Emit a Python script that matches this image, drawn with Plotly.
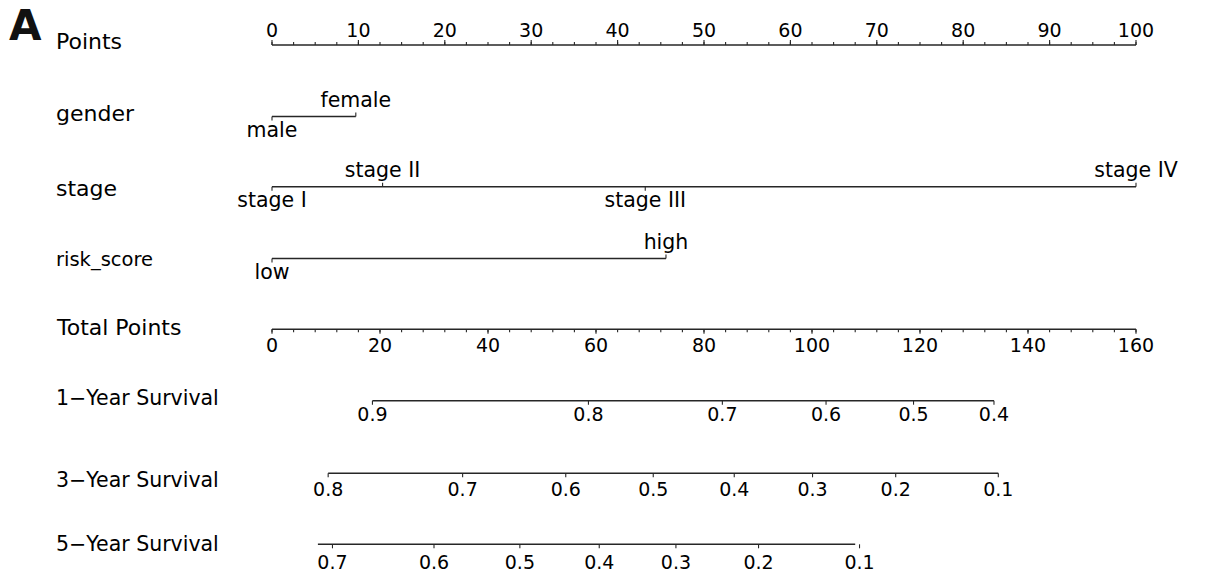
import plotly.graph_objects as go

# ---------------- data ----------------
points_major = [0, 10, 20, 30, 40, 50, 60, 70, 80, 90, 100]
points_minor_step = 2.5
points_max = 100

gender_levels = ["male", "female"]
gender_points = [0, 9.7]

stage_levels = ["stage I", "stage II", "stage III", "stage IV"]
stage_points = [0, 12.8, 43.2, 100]

risk_levels = ["low", "high"]
risk_points = [0, 45.6]

total_major = [0, 20, 40, 60, 80, 100, 120, 140, 160]
total_minor_step = 4
total_max = 160

surv1_labels = ["0.9", "0.8", "0.7", "0.6", "0.5", "0.4"]
surv1_total = [18.6, 58.6, 83.4, 102.6, 118.8, 133.7]
surv1_line = [18.6, 133.7]

surv3_labels = ["0.8", "0.7", "0.6", "0.5", "0.4", "0.3", "0.2", "0.1"]
surv3_total = [10.4, 35.3, 54.4, 70.6, 85.6, 100.1, 115.5, 134.5]
surv3_line = [10.4, 134.5]

surv5_labels = ["0.7", "0.6", "0.5", "0.4", "0.3", "0.2", "0.1"]
surv5_total = [11.2, 30.0, 45.9, 60.6, 74.8, 90.1, 108.8]
surv5_line = [8.5, 108.0]

row_titles = ["Points", "gender", "stage", "risk_score", "Total Points",
              "1\u2212Year Survival", "3\u2212Year Survival", "5\u2212Year Survival"]

# ---------------- layout constants ----------------
W, H = 1205, 574
X0_PX, X100_PX = 272, 1136
PX_PER_PT = (X100_PX - X0_PX) / points_max
x_range = [-X0_PX / PX_PER_PT, (W - X0_PX) / PX_PER_PT]

row_y = [45, 116.5, 186.7, 258.5, 329.3, 400.7, 473.3, 544.3]
title_y = [41.5, 113, 188, 259, 327, 398, 480, 544]
title_size = [22, 22, 22, 19.5, 22, 20.5, 20.5, 20.5]

FONT = "DejaVu Sans"
LINE_C = "#262626"
LINE_W = 1.6
TICK_W = 1.1
TICK_FS = 19
CAT_FS = 20.5


def tp(v):
    """total points -> points scale"""
    return v * points_max / total_max


fig = go.Figure()


def add_line(x0, x1, y):
    fig.add_trace(go.Scatter(x=[x0, x1], y=[y, y], mode="lines",
                             line=dict(color=LINE_C, width=LINE_W),
                             hoverinfo="skip", showlegend=False))


def add_ticks(xs, y0, y1):
    xx, yy = [], []
    for x in xs:
        xx += [x, x, None]
        yy += [y0, y1, None]
    fig.add_trace(go.Scatter(x=xx, y=yy, mode="lines",
                             line=dict(color=LINE_C, width=TICK_W),
                             hoverinfo="skip", showlegend=False))


def add_text(xs, ys, labels, size):
    fig.add_trace(go.Scatter(x=xs, y=ys, text=labels, mode="text",
                             textposition="middle center",
                             textfont=dict(family=FONT, size=size, color="black"),
                             cliponaxis=False, hoverinfo="skip", showlegend=False))


# Points axis (ticks up, labels above)
y = row_y[0]
add_line(0, points_max, y)
n_minor = int(points_max / points_minor_step)
add_ticks([i * points_minor_step for i in range(n_minor + 1)], y, y - 3)
add_ticks(points_major, y, y - 5)
add_text(points_major, [y - 13] * len(points_major), [str(v) for v in points_major], TICK_FS)

# categorical rows
for r, (levels, pts) in zip([1, 2, 3], [(gender_levels, gender_points),
                                         (stage_levels, stage_points),
                                         (risk_levels, risk_points)]):
    y = row_y[r]
    add_line(min(pts), max(pts), y)
    below = [p for i, p in enumerate(pts) if i % 2 == 0]
    above = [p for i, p in enumerate(pts) if i % 2 == 1]
    add_ticks(below, y, y + 4)
    add_ticks(above, y, y - 4)
    add_text(below, [y + 15.5] * len(below), [l for i, l in enumerate(levels) if i % 2 == 0], CAT_FS)
    add_text(above, [y - 14.5] * len(above), [l for i, l in enumerate(levels) if i % 2 == 1], CAT_FS)

# Total points axis (ticks down, labels below)
y = row_y[4]
add_line(0, tp(total_max), y)
add_ticks([tp(v) for v in range(0, total_max + 1, total_minor_step)], y, y + 3)
add_ticks([tp(v) for v in total_major], y, y + 4.5)
add_text([tp(v) for v in total_major], [y + 18] * len(total_major),
         [str(v) for v in total_major], TICK_FS)

# survival axes
for r, labels, pos, ext, off in [(5, surv1_labels, surv1_total, surv1_line, 15.5),
                                  (6, surv3_labels, surv3_total, surv3_line, 17.5),
                                  (7, surv5_labels, surv5_total, surv5_line, 20)]:
    y = row_y[r]
    add_line(tp(ext[0]), tp(ext[1]), y)
    add_ticks([tp(v) for v in pos], y, y + 4)
    add_text([tp(v) for v in pos], [y + off] * len(pos), labels, TICK_FS)

# row titles
for t, ty, fs in zip(row_titles, title_y, title_size):
    fig.add_annotation(text=t, xref="paper", yref="y", x=54 / W, y=ty,
                       xanchor="left", yanchor="middle", showarrow=False,
                       font=dict(family=FONT, size=fs, color="black"))

# panel letter
fig.add_annotation(text="<b>A</b>", xref="paper", yref="y", x=7 / W, y=25,
                   xanchor="left", yanchor="middle", showarrow=False,
                   font=dict(family=FONT, size=42, color="#111111"))

fig.update_layout(
    width=W, height=H, autosize=False,
    margin=dict(l=0, r=0, t=0, b=0),
    paper_bgcolor="white", plot_bgcolor="white",
    xaxis=dict(range=x_range, visible=False, fixedrange=True),
    yaxis=dict(range=[H, 0], visible=False, fixedrange=True),
    showlegend=False,
)

fig.write_html("out.html")
